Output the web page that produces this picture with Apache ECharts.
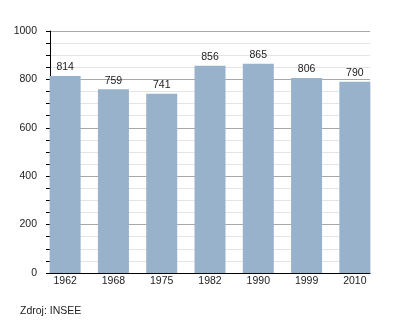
<!DOCTYPE html>
<html>
<head>
<meta charset="utf-8">
<script src="https://cdn.jsdelivr.net/npm/echarts@6/dist/echarts.min.js"></script>
<style>
html,body{margin:0;padding:0;background:#fff;}
#c{width:400px;height:323px;}
</style>
</head>
<body>
<div id="c"></div>
<script>
const categories = ['1962', '1968', '1975', '1982', '1990', '1999', '2010'];
const population = [814, 759, 741, 856, 865, 806, 790];
const yTicks = [0, 200, 400, 600, 800, 1000];
const sourceText = 'Zdroj: INSEE';

const FONT = 'Liberation Sans, Arial, sans-serif';
const chart = echarts.init(document.getElementById('c'), null, {renderer: 'canvas'});
chart.setOption({
  animation: false,
  backgroundColor: '#ffffff',
  textStyle: {fontFamily: FONT},
  graphic: [{
    type: 'text', left: 20, top: 306,
    style: {text: sourceText, font: '10.5px ' + FONT, fill: '#222'}
  }],
  grid: [
    {left: 50, right: 30, top: 31, bottom: 50},
    {left: 41, right: 21, top: 31, bottom: 50}
  ],
  xAxis: [
    {
      type: 'category', gridIndex: 0, data: categories,
      axisLine: {show: true, lineStyle: {color: '#000', width: 1}},
      axisTick: {show: false}, axisLabel: {show: false}, splitLine: {show: false}
    },
    {
      type: 'category', gridIndex: 1, data: categories,
      axisLine: {show: false}, axisTick: {show: false},
      axisLabel: {color: '#222', fontSize: 10.5, margin: 3, fontFamily: FONT}
    }
  ],
  yAxis: [
    {
      type: 'value', gridIndex: 0, min: yTicks[0], max: yTicks[yTicks.length - 1], interval: 200,
      axisLine: {show: true, lineStyle: {color: '#000', width: 1}},
      axisTick: {show: true, length: 4, lineStyle: {color: '#000'}},
      minorTick: {show: true, splitNumber: 4, length: 4, lineStyle: {color: '#000'}},
      axisLabel: {color: '#222', fontSize: 10.5, margin: 13, fontFamily: FONT,
                  formatter: v => String(v)},
      splitLine: {show: true, lineStyle: {color: '#a8a8a8', width: 1}},
      minorSplitLine: {show: true, lineStyle: {color: '#e4e4e4', width: 1}}
    },
    {
      type: 'value', gridIndex: 1, min: yTicks[0], max: yTicks[yTicks.length - 1], interval: 200,
      show: false, splitLine: {show: false}
    }
  ],
  series: [{
    type: 'bar', xAxisIndex: 1, yAxisIndex: 1, data: population,
    barWidth: 31,
    itemStyle: {color: '#98b2cc'},
    label: {show: true, position: 'top', distance: 3, color: '#222', fontSize: 10.5, fontFamily: FONT}
  }]
});
</script>
</body>
</html>
